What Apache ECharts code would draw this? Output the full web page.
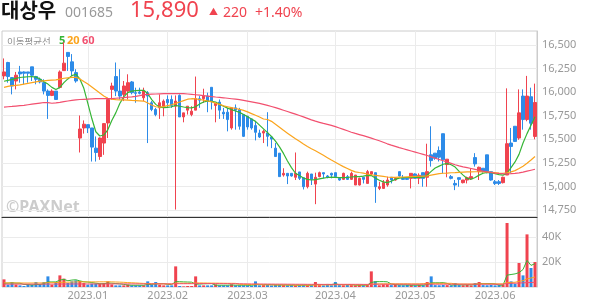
<!DOCTYPE html>
<html><head><meta charset="utf-8">
<script src="https://cdn.jsdelivr.net/npm/echarts@6/dist/echarts.min.js"></script>
<style>html,body{margin:0;padding:0;background:#fff}#c{width:594px;height:304px}</style>
</head><body><div id="c"></div>
<script>
const tradingDays = [
  ['2022.12', [1,2,5,6,7,8,9,12,13,14,15,16,19,20,21,22,23,26,27,28,29]],
  ['2023.01', [2,3,4,5,6,9,10,11,12,13,16,17,18,19,20,25,26,27,30,31]],
  ['2023.02', [1,2,3,6,7,8,9,10,13,14,15,16,17,20,21,22,23,24,27,28]],
  ['2023.03', [2,3,6,7,8,9,10,13,14,15,16,17,20,21,22,23,24,27,28,29,30,31]],
  ['2023.04', [3,4,5,6,7,10,11,12,13,14,17,18,19,20,21,24,25,26,27,28]],
  ['2023.05', [2,3,4,8,9,10,11,12,15,16,17,18,19,22,23,24,25,26,30,31]],
  ['2023.06', [1,2,5,7,8,9,12,13,14,15,16]]
];
const categories = [];
tradingDays.forEach(([m, days]) => days.forEach(d => categories.push(m + '.' + String(d).padStart(2, '0'))));

const openP = [16172,16314,16154,16118,16214,16214,16214,16268,16165,16136,16100,16011,15965,16011,16050,16228,16421,16321,16207,15513,
15620,15655,15620,15406,15317,15460,15673,16029,16165,16011,15976,16011,16108,15994,16001,15940,15994,15887,15816,15833,
15851,15922,15922,15851,15965,15737,15809,15762,15809,15930,15930,15958,16051,15858,15894,15787,15787,15620,15833,15816,
15762,15744,15716,15645,15566,15566,15566,15524,15406,15353,15121,15139,15139,15097,15154,15093,14997,15132,15025,15104,
15146,15111,15139,15146,15086,15075,15104,15075,15015,15015,15097,15032,15132,15146,14979,14979,15015,15097,15068,15157,
15086,15086,15086,15132,15086,15146,15097,15335,15353,15381,15559,15232,15104,15032,15093,15040,15068,15082,15306,15157,
15193,15335,15157,15050,15050,15040,15121,15460,15638,15513,15958,15709,15951,15530];
const closeP = [16214,16165,16065,16179,16193,16200,16200,16179,16136,16108,16011,15965,16011,15922,16214,16307,16378,16225,16118,15609,
15660,15620,15417,15360,15513,15666,15922,16065,16011,15958,16065,16100,15994,15987,15987,16011,15958,15816,15762,15887,
15905,15887,15858,15905,15737,15780,15851,15798,15930,15915,15958,15905,15905,15880,15809,15769,15709,15833,15809,15638,
15531,15631,15620,15574,15524,15584,15531,15502,15317,15104,15139,15111,15111,15139,15086,14997,15139,15075,15097,15146,
15132,15097,15121,15104,15068,15139,15075,15139,15121,15086,15075,15157,15157,14997,14997,15040,15068,15068,15086,15111,
15075,15075,15139,15086,15118,15086,15157,15274,15299,15310,15282,15289,15086,15015,15075,15068,15093,15104,15239,15203,
15157,15157,15068,15032,15032,15097,15453,15424,15477,15780,15709,15958,15670,15890];
const lowP = [16136,16100,15976,16029,16100,16083,16100,16118,16083,16093,15976,15716,15958,15922,16040,16225,16225,16172,16100,15360,
15560,15566,15264,15264,15282,15335,15513,15922,15958,15922,15905,15922,15976,15887,15976,15905,15460,15798,15744,15716,
15744,15833,15833,14755,15737,15680,15762,15744,15809,15833,15887,15787,15816,15680,15716,15716,15584,15602,15602,15602,
15524,15602,15602,15488,15513,15460,15424,15406,15317,15104,15104,15025,15104,15068,15068,14968,14979,15015,14812,15097,
15086,15086,15086,15097,15061,15068,15068,15068,15015,15010,15032,15032,15121,14826,14961,14979,14997,15032,15061,15104,
15068,15068,14979,15086,15025,14997,14997,15210,15282,15264,15139,15097,15075,14961,14997,15032,15032,15068,15210,15068,
15146,15139,15061,15015,15015,15032,15121,15139,15477,15495,15602,15691,15602,15500];
const highP = [16357,16321,16160,16214,16278,16220,16214,16268,16172,16154,16136,16029,16029,16011,16230,16530,16421,16403,16243,15752,
15700,15655,15620,15530,15520,15670,15940,16100,16314,16243,16118,16189,16118,16047,16047,16047,16011,15905,15833,15976,
15922,15965,15965,15965,15976,15780,15851,15851,16165,15958,16036,15994,16051,15880,15922,15833,15833,15833,15869,15833,
15762,15744,15716,15691,15602,15602,15787,15524,15460,15353,15193,15139,15139,15360,15154,15093,15157,15132,15146,15157,
15146,15121,15146,15146,15097,15146,15121,15157,15121,15093,15097,15175,15157,15146,15050,15068,15104,15097,15097,15157,
15121,15097,15139,15139,15139,15146,15453,15638,15353,15424,15559,15289,15121,15068,15093,15068,15104,15193,15353,15210,
15193,15335,15157,15068,15068,15104,16040,15620,15638,16029,16029,16172,16047,16090];

const ma5 = [16115,16125,16135,16145,16155,16160,16163,16164,16160,16140,16110,16085,16050,16028,16050,16100,16140,16175,16190,16140,
16040,15880,15720,15580,15535,15545,15600,15700,15780,15880,15950,15995,16010,16015,16018,16020,15985,15920,15870,15840,
15835,15838,15845,15860,15850,15842,15836,15833,15845,15875,15895,15905,15903,15895,15870,15850,15830,15815,15800,15785,
15762,15740,15715,15690,15650,15610,15570,15530,15480,15420,15350,15270,15200,15140,15115,15090,15075,15068,15072,15080,
15088,15095,15098,15097,15094,15093,15095,15100,15104,15104,15110,15118,15115,15090,15065,15048,15040,15055,15075,15088,
15093,15095,15095,15096,15097,15098,15120,15160,15195,15215,15235,15245,15230,15205,15160,15120,15085,15076,15095,15120,
15140,15150,15145,15135,15125,15120,15140,15200,15260,15340,15460,15560,15650,15740];
const ma20 = [16051,16060,16068,16072,16076,16084,16092,16100,16108,16116,16120,16124,16128,16129,16138,16147,16152,16156,16157,16140,
16112,16085,16055,16023,15990,15960,15935,15925,15920,15918,15917,15915,15912,15910,15908,15905,15885,15864,15845,15840,
15846,15856,15866,15880,15895,15910,15925,15930,15928,15922,15915,15906,15896,15884,15870,15855,15845,15835,15826,15818,
15806,15790,15772,15754,15736,15715,15710,15690,15660,15628,15595,15565,15535,15505,15478,15450,15424,15400,15378,15355,
15330,15305,15280,15256,15232,15210,15190,15170,15155,15148,15142,15132,15124,15118,15112,15106,15100,15096,15096,15098,
15100,15102,15104,15106,15108,15110,15112,15120,15128,15135,15140,15142,15145,15147,15150,15152,15154,15155,15156,15156,
15155,15153,15150,15146,15142,15140,15145,15155,15168,15190,15215,15245,15280,15317];
const ma60 = [15841,15845,15848,15852,15856,15860,15866,15872,15878,15884,15890,15888,15882,15885,15892,15900,15906,15912,15918,15922,
15924,15926,15928,15930,15930,15930,15930,15932,15935,15938,15942,15946,15950,15955,15962,15970,15976,15978,15980,15982,
15983,15983,15983,15984,15985,15983,15980,15976,15972,15968,15963,15958,15953,15948,15944,15940,15935,15930,15925,15920,
15912,15904,15896,15888,15880,15870,15860,15848,15836,15822,15808,15794,15780,15766,15752,15738,15722,15706,15692,15680,
15668,15658,15648,15634,15620,15605,15590,15575,15562,15550,15538,15525,15512,15498,15484,15468,15452,15438,15425,15412,
15400,15388,15376,15364,15352,15340,15328,15314,15300,15286,15272,15258,15244,15230,15218,15208,15199,15190,15181,15172,
15163,15155,15148,15142,15138,15135,15134,15135,15138,15144,15152,15162,15172,15182];

const volume = [6100,1900,4000,1900,1300,800,1900,1900,4000,1900,4000,8500,1900,4000,9300,6700,3200,4500,5300,4800,
3200,1900,2700,2700,2700,3200,4500,2100,1300,1300,1300,1900,1300,1300,1300,1300,4500,1900,4000,1900,
1300,1300,1300,16500,800,500,800,800,8500,1300,1300,1300,1300,2100,1300,1300,1300,2100,1300,1300,
1300,1300,800,4500,1300,1500,1700,1300,2000,1800,1500,1400,1600,1300,1500,1700,1400,1500,4000,1500,
1300,1600,1400,4000,1500,1400,1600,1500,1300,1700,1500,1600,12500,4500,1400,2100,2100,1500,2100,1500,
1400,1600,1500,1300,1500,1400,4000,8500,1500,1400,1600,1500,1300,3200,1500,1400,1600,1300,3200,4000,
1500,1400,1600,1300,1500,2000,51200,4500,2500,19200,9300,42100,15200,20000];
const volMa5 = [3000,3100,3300,3100,3040,1980,1980,1560,1980,1980,2740,4060,4060,4060,5540,6080,5020,5540,5800,4900,
4200,3940,3580,3060,2640,2640,3160,3040,2760,2480,2100,1580,1420,1420,1420,1420,2080,2060,2600,2720,
2720,2080,1960,4260,4240,4080,3980,3880,2280,2340,2540,2640,2740,1460,1460,1460,1460,1620,1460,1460,
1460,1460,1300,1840,1840,1880,1920,1940,1560,1620,1660,1600,1520,1500,1460,1500,1500,1480,2020,2020,
1940,2040,1960,2500,1900,2000,1920,2000,1460,1500,1520,1520,3600,4260,4300,4320,4140,2460,1860,1720,
1720,1620,1500,1460,1460,1460,1940,3300,3380,3360,3500,2900,1460,1800,1760,1720,1800,1760,1960,2700,
2660,2740,2740,2460,1460,1560,9500,10000,10500,11500,14000,21300,17300,18700];
const volMa20 = [3300,3300,3300,3250,3250,3200,3200,3200,3250,3250,3300,3450,3450,3500,3700,3850,3850,3950,4050,4150,
4100,4050,4100,4100,4150,4150,4200,4100,4000,3900,3750,3550,3400,3250,3050,2900,2800,2700,2650,2550,
2500,2450,2400,3150,3050,3000,2950,2900,3250,3250,3200,3150,3100,3100,3050,3000,2950,2950,2900,2150,
2100,2050,2000,2150,2100,1700,1700,1700,1650,1650,1650,1650,1600,1550,1550,1550,1550,1550,1650,1650,
1650,1650,1650,1800,1800,1800,1750,1750,1750,1700,1700,1700,2250,2400,2450,2500,2500,2550,2550,2550,
2550,2550,2500,2500,2500,2650,2950,2950,2950,2950,2950,2950,2950,2550,2400,2400,2350,2350,2450,2550,
2550,2550,2500,2500,2500,2500,3500,3700,3800,4500,5000,6500,7200,8000];
const volMa60 = [2300,2300,2300,2300,2300,2300,2300,2300,2300,2300,2300,2350,2350,2350,2400,2400,2400,2450,2450,2450,
2450,2450,2450,2450,2450,2450,2500,2500,2500,2500,2500,2500,2500,2500,2500,2500,2500,2500,2500,2500,
2500,2500,2500,2650,2650,2650,2650,2650,2750,2750,2750,2750,2750,2750,2700,2700,2700,2650,2650,2600,
2550,2500,2450,2450,2400,2400,2350,2350,2300,2300,2300,2250,2250,2200,2200,2200,2150,2150,2150,2100,
2100,2100,2100,2150,2150,2150,2150,2150,2150,2150,2100,2100,2250,2250,2250,2250,2250,2250,2250,2250,
2250,2250,2200,2200,2200,2250,2250,2250,2250,2250,2250,2250,2250,2250,2250,2250,2250,2250,2250,2250,
2250,2250,2250,2200,2200,2200,2900,2950,3000,3200,3300,3500,3600,3800];

const priceTicks = [14750,15000,15250,15500,15750,16000,16250,16500];
const volTicks = [20000,40000];
const legendMA = ['5','20','60'];

const UP = '#f0434f', DOWN = '#2d8be8';
const MA_COLORS = ['#35b535', '#fba41c', '#f2506f'];
const GRID_LINE = '#ebebeb';

const isMonthStart = i => i > 0 && categories[i].slice(0, 7) !== categories[i - 1].slice(0, 7);

const chart = echarts.init(document.getElementById('c'), null, {renderer: 'canvas'});
const candleData = categories.map((_, i) => [openP[i], closeP[i], lowP[i], highP[i]]);
const volData = categories.map((_, i) => ({value: volume[i], itemStyle: {color: closeP[i] >= openP[i] ? UP : DOWN}}));

function maLine(name, data, color, xi, yi, w) {
  return {name, type: 'line', xAxisIndex: xi, yAxisIndex: yi, data, symbol: 'none', silent: true,
    lineStyle: {color, width: w}, itemStyle: {color}, z: 3};
}

const sans = '"Noto Sans", "Noto Sans CJK KR", sans-serif';
chart.setOption({
  animation: false,
  backgroundColor: '#fff',
  textStyle: {fontFamily: sans},
  grid: [
    {left: 2, right: 57, top: 31, height: 186, show: true, borderColor: '#cccccc', borderWidth: 1, containLabel: false, outerBoundsMode: 'none'},
    {left: 2, right: 57, top: 217, height: 70, show: true, borderColor: '#cccccc', borderWidth: 1, containLabel: false, outerBoundsMode: 'none'}
  ],
  xAxis: [
    {type: 'category', gridIndex: 0, data: categories, boundaryGap: true,
      axisLine: {show: true, onZero: false, lineStyle: {color: '#333', width: 1}},
      axisTick: {show: false}, axisLabel: {show: false},
      splitLine: {show: true, interval: (i) => isMonthStart(i), alignWithLabel: true, lineStyle: {color: GRID_LINE}}},
    {type: 'category', gridIndex: 1, data: categories, boundaryGap: true,
      axisLine: {show: false}, axisTick: {show: false},
      axisLabel: {interval: (i) => isMonthStart(i), formatter: v => v.slice(0, 7), color: '#999', fontSize: 11, margin: 3, fontFamily: sans},
      splitLine: {show: true, interval: (i) => isMonthStart(i), alignWithLabel: true, lineStyle: {color: GRID_LINE}}}
  ],
  yAxis: [
    {type: 'value', gridIndex: 0, position: 'right', min: 14676, max: 16648, scale: true,
      axisLine: {show: true, lineStyle: {color: '#cccccc'}},
      axisTick: {show: false, customValues: priceTicks},
      axisLabel: {customValues: priceTicks, color: '#999', fontSize: 11, margin: 5, fontFamily: sans,
        formatter: v => Number(v).toLocaleString('en-US')},
      splitLine: {show: true, lineStyle: {color: GRID_LINE}}},
    {type: 'value', gridIndex: 1, position: 'right', min: 0, max: 56000,
      axisLine: {show: true, lineStyle: {color: '#cccccc'}},
      axisTick: {show: false, customValues: volTicks},
      axisLabel: {customValues: volTicks, color: '#999', fontSize: 11, margin: 5, fontFamily: sans,
        formatter: v => (v / 1000) + 'K'},
      splitLine: {show: true, lineStyle: {color: GRID_LINE}}}
  ],
  series: [
    {name: 'candle', type: 'candlestick', xAxisIndex: 0, yAxisIndex: 0, data: candleData, barWidth: 3, silent: true,
      itemStyle: {color: UP, color0: DOWN, borderColor: UP, borderColor0: DOWN, borderWidth: 1}, z: 2},
    maLine('MA5', ma5, MA_COLORS[0], 0, 0, 1.2),
    maLine('MA20', ma20, MA_COLORS[1], 0, 0, 1.2),
    maLine('MA60', ma60, MA_COLORS[2], 0, 0, 1.2),
    {name: 'volume', type: 'bar', xAxisIndex: 1, yAxisIndex: 1, data: volData, barWidth: 3, silent: true, z: 2},
    maLine('VMA5', volMa5, MA_COLORS[0], 1, 1, 1),
    maLine('VMA20', volMa20, MA_COLORS[1], 1, 1, 1),
    maLine('VMA60', volMa60, MA_COLORS[2], 1, 1, 1)
  ],
  graphic: [
    {type: 'text', x: 1, y: 10, style: {text: '대상우', font: 'bold 20px "Noto Sans CJK KR", sans-serif', fill: '#111', textVerticalAlign: 'middle'}},
    {type: 'text', x: 65, y: 13, style: {text: '001685', font: '14px ' + sans, fill: '#999', textVerticalAlign: 'middle'}},
    {type: 'text', x: 130, y: 11, style: {text: '15,890', font: '22px ' + sans, fill: UP, textVerticalAlign: 'middle'}},
    {type: 'text', x: 209, y: 12, style: {text: '▲', font: '9px ' + sans, fill: UP, textVerticalAlign: 'middle'}},
    {type: 'text', x: 223, y: 13, style: {text: '220', font: '14px ' + sans, fill: UP, textVerticalAlign: 'middle'}},
    {type: 'text', x: 255, y: 13, style: {text: '+1.40%', font: '14px ' + sans, fill: UP, textVerticalAlign: 'middle'}},
    {type: 'text', x: 7, y: 41, style: {text: '이동평균선', font: '9.5px "Noto Sans CJK KR", sans-serif', fill: '#8f8f8f', textVerticalAlign: 'middle'}},
    {type: 'text', x: 59, y: 41, style: {text: legendMA[0], font: 'bold 11px ' + sans, fill: MA_COLORS[0], textVerticalAlign: 'middle'}},
    {type: 'text', x: 67, y: 41, style: {text: legendMA[1], font: 'bold 11px ' + sans, fill: MA_COLORS[1], textVerticalAlign: 'middle'}},
    {type: 'text', x: 82, y: 41, style: {text: legendMA[2], font: 'bold 11px ' + sans, fill: MA_COLORS[2], textVerticalAlign: 'middle'}},
    {type: 'text', x: 6, y: 207, style: {text: '©PAXNet', font: 'bold 16px ' + sans, fill: '#cccccc', textVerticalAlign: 'middle'}}
  ]
});
</script></body></html>
